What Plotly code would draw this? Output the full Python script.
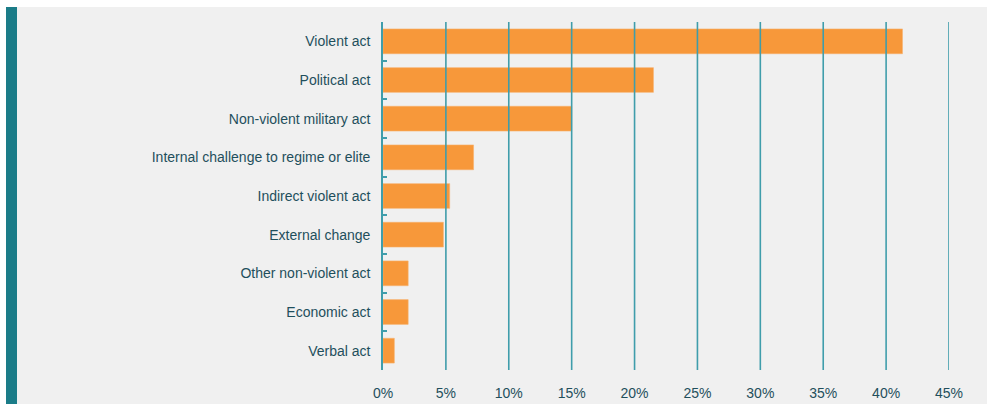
import plotly.graph_objects as go

categories = ["Violent act", "Political act", "Non-violent military act",
              "Internal challenge to regime or elite", "Indirect violent act",
              "External change", "Other non-violent act", "Economic act", "Verbal act"]
values = [41.3, 21.5, 15.0, 7.2, 5.3, 4.8, 2.0, 2.0, 0.9]
x_ticks = [0, 5, 10, 15, 20, 25, 30, 35, 40, 45]
x_tick_labels = [f"{t}%" for t in x_ticks]

TEAL = "#1b7c88"
GRID = "#3f9dab"
TEXT = "#1f4f5c"
BAR = "#f7983a"
BG = "#f0f0f0"

W, H = 987, 404
L, R, T, B = 383, 38, 22, 34
pw, ph = W - L - R, H - T - B

def px_x(p):
    return (p - L) / pw

def px_y(p):
    return (H - B - p) / ph

fig = go.Figure(go.Bar(
    x=values, y=categories, orientation="h",
    marker=dict(color=BAR, line=dict(color="#f9b06a", width=0.6)),
    hoverinfo="skip",
))

shapes = [
    dict(type="rect", xref="paper", yref="paper", x0=px_x(17), x1=px_x(W + 5),
         y0=px_y(7), y1=px_y(H + 5), fillcolor=BG, line=dict(width=0), layer="below"),
    dict(type="rect", xref="paper", yref="paper", x0=px_x(6), x1=px_x(17),
         y0=px_y(7), y1=px_y(H + 5), fillcolor=TEAL, line=dict(width=0), layer="below"),
]
for t in x_ticks[1:]:
    shapes.append(dict(type="line", xref="x", yref="paper", x0=t, x1=t, y0=0, y1=1,
                       line=dict(color=GRID, width=1.6), layer="above"))

fig.update_layout(
    width=W, height=H,
    margin=dict(l=L, r=R, t=T, b=B, pad=0, autoexpand=False),
    paper_bgcolor="white", plot_bgcolor=BG,
    showlegend=False, bargap=0.36,
    font=dict(family="Liberation Sans, Arial, sans-serif", size=14, color=TEXT),
    shapes=shapes,
    xaxis=dict(range=[0, 45], tickvals=x_ticks, ticktext=x_tick_labels,
               showgrid=False, zeroline=False, showline=False, ticks="",
               ticklabelstandoff=13, fixedrange=True, automargin=False),
    yaxis=dict(categoryorder="array", categoryarray=categories[::-1],
               showgrid=False, zeroline=False, showline=True, linecolor=GRID, linewidth=1.6,
               ticks="inside", tickson="boundaries", ticklen=4, tickcolor=GRID, tickwidth=1.6,
               ticklabelstandoff=8, fixedrange=True, automargin=False),
)

fig.write_html("out.html", config={"displayModeBar": False},
               post_script="document.body.style.margin='0px';")
